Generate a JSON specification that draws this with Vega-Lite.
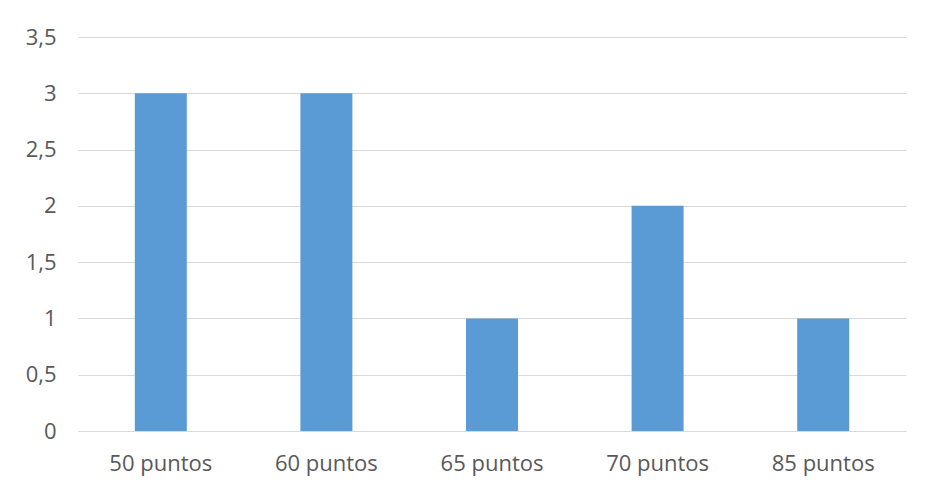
{
  "$schema": "https://vega.github.io/schema/vega-lite/v6.json",
  "autosize": {"type": "none"},
  "width": 828,
  "height": 394,
  "padding": {"left": 78, "top": 37, "right": 19, "bottom": 54},
  "background": "white",
  "data": {"values": [
    {"categoria": "50 puntos", "valor": 3},
    {"categoria": "60 puntos", "valor": 3},
    {"categoria": "65 puntos", "valor": 1},
    {"categoria": "70 puntos", "valor": 2},
    {"categoria": "85 puntos", "valor": 1}
  ]},
  "mark": {"type": "bar", "color": "#5B9BD5"},
  "encoding": {
    "x": {
      "field": "categoria", "type": "nominal", "sort": null,
      "scale": {"paddingInner": 0.686, "paddingOuter": 0.343},
      "axis": {"title": null, "labelAngle": 0, "domain": true, "domainColor": "#D9D9D9", "domainWidth": 1, "ticks": false, "labelPadding": 32, "labelBaseline": "middle", "labelFont": "Open Sans", "labelFontSize": 22, "labelColor": "#595959"}
    },
    "y": {
      "field": "valor", "type": "quantitative",
      "scale": {"domain": [0, 3.5], "nice": false},
      "axis": {"title": null, "values": [0, 0.5, 1, 1.5, 2, 2.5, 3, 3.5], "labelExpr": "replace(format(datum.value, ''), '.', ',')", "domain": false, "ticks": false, "grid": true, "gridColor": "#D9D9D9", "gridWidth": 1, "labelPadding": 22, "labelFont": "Open Sans", "labelFontSize": 22, "labelColor": "#595959"}
    }
  },
  "config": {"view": {"stroke": null}}
}
